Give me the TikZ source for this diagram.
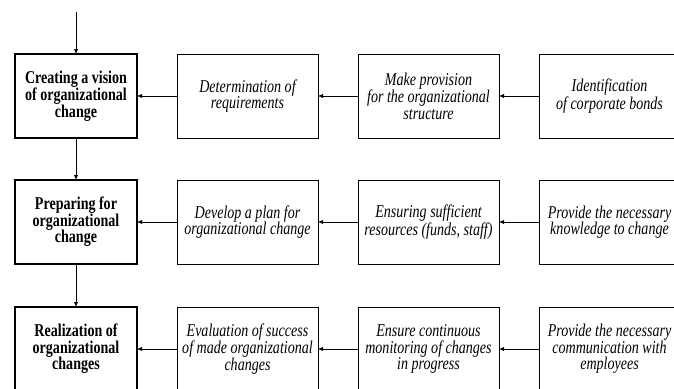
\documentclass[tikz,border=0pt]{standalone}
\usepackage{fontspec}
\setmainfont{Liberation Serif}[FakeStretch=0.78]
\usetikzlibrary{arrows.meta}
\usetikzlibrary{positioning}
\tikzset{>={Latex[length=5pt,width=4pt]}}
\tikzset{stage/.style={draw,line width=2.6pt,minimum width=122pt,minimum height=84pt,
    align=center,font=\fontsize{18}{16.5}\selectfont\bfseries}}
\tikzset{task/.style={draw,line width=0.8pt,minimum width=141pt,minimum height=84pt,
    align=center,font=\fontsize{18}{16.5}\selectfont\itshape}}

\begin{document}
\begin{tikzpicture}[x=1pt,y=1pt,every node/.style={inner sep=2pt,outer sep=0pt}]
  \useasboundingbox[clip] (0,0) rectangle (674,-388);

  % first row
  \node[stage] (vision) at (76,-96) {Creating a vision\\of organizational\\change};
  \node[task,right=40pt of vision] (req) {Determination of\\requirements};
  \node[task,right=40pt of req] (struct) {Make provision\\for the organizational\\structure};
  \node[task,right=40pt of struct] (bonds) {Identification\\of corporate bonds};

  % second row
  \node[stage,below=42pt of vision] (prep) {Preparing for\\organizational\\change};
  \node[task,right=40pt of prep] (plan) {Develop a plan for\\organizational change};
  \node[task,right=40pt of plan] (res) {Ensuring sufficient\\resources (funds, staff)};
  \node[task,right=40pt of res] (know) {Provide the necessary\\knowledge to change};

  % third row
  \node[stage,below=43pt of prep] (real) {Realization of\\organizational\\changes};
  \node[task,right=40pt of real] (eval) {Evaluation of success\\of made organizational\\changes};
  \node[task,right=40pt of eval] (monit) {Ensure continuous\\monitoring of changes\\in progress};
  \node[task,right=40pt of monit] (comm) {Provide the necessary\\communication with\\employees};

  % connectors
  \coordinate (start) at (76,-12);
  \draw[->] (start) -- (vision);
  \draw[->] (vision) -- (prep);
  \draw[->] (prep) -- (real);
  \draw[->] (req) -- (vision);
  \draw[->] (struct) -- (req);
  \draw[->] (bonds) -- (struct);
  \draw[->] (plan) -- (prep);
  \draw[->] (res) -- (plan);
  \draw[->] (know) -- (res);
  \draw[->] (eval) -- (real);
  \draw[->] (monit) -- (eval);
  \draw[->] (comm) -- (monit);
\end{tikzpicture}
\end{document}
